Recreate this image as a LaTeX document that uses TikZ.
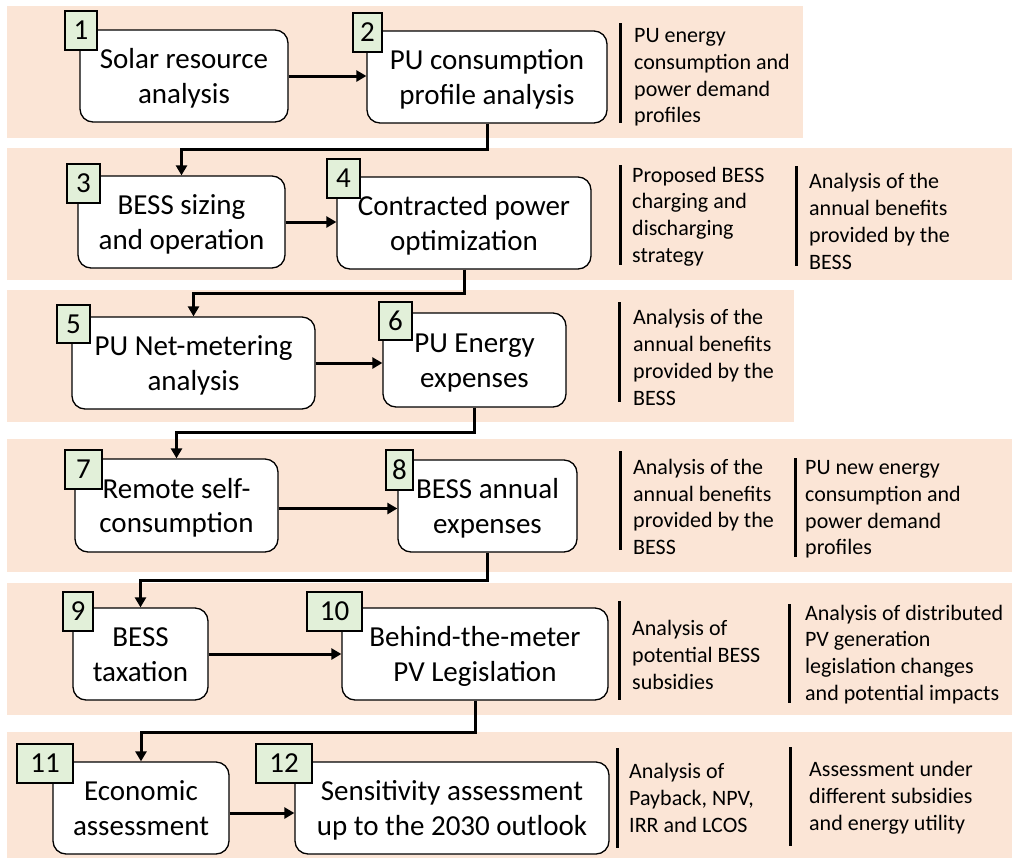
\documentclass[tikz,border=0pt]{standalone}
\usepackage{fontspec}
\setmainfont{Carlito}
\usetikzlibrary{arrows.meta,calc}
\definecolor{bandc}{HTML}{FBE5D6}
\definecolor{tagc}{HTML}{E2F0D9}
\newcommand\twolines[2]{\raisebox{-3pt}[\height][\depth]{\begin{tabular}{@{}c@{}}#1\\#2\end{tabular}}}
\begin{document}
\begin{tikzpicture}[x=1pt,y=-1pt,
  band/.style={fill=bandc,draw=none},
  box/.style={draw=black,line width=1.3pt,fill=white,rounded corners=13pt,align=center,inner sep=0pt,font=\fontsize{29}{34.5}\selectfont},
  tag/.style={draw=black,line width=1.3pt,fill=tagc,inner sep=0pt,font=\fontsize{29}{35}\selectfont},
  conn/.style={line width=3pt,-{Triangle[length=10pt,width=11pt]}},
  bar/.style={line width=3pt},
  side/.style={anchor=west,align=left,inner sep=0pt,font=\fontsize{22}{26.8}\selectfont}]
\useasboundingbox (0,0) rectangle (1012,860);
% bands
\fill[band] (7,6) rectangle (803,138);
\fill[band] (7,148) rectangle (1012,280);
\fill[band] (7,290) rectangle (794,422);
\fill[band] (7,439) rectangle (1012,572);
\fill[band] (7,583) rectangle (1012,715);
\fill[band] (7,732) rectangle (1012,858);
% side bars
\draw[bar] (620,23) -- (620,123);
\draw[bar] (620,165) -- (620,265);
\draw[bar] (796,166) -- (796,266);
\draw[bar] (619,302) -- (619,402);
\draw[bar] (620,451) -- (620,550);
\draw[bar] (795,458) -- (795,557);
\draw[bar] (619,601) -- (619,700);
\draw[bar] (789,604) -- (789,703);
\draw[bar] (617,748) -- (617,848);
\draw[bar] (790,747) -- (790,846);
% boxes
\node[box,minimum width=208pt,minimum height=92pt] (b1) at (184,76) {\twolines{Solar resource}{analysis}};
\node[box,minimum width=240pt,minimum height=92pt] (b2) at (487,77) {\twolines{PU consumption}{profile analysis}};
\node[box,minimum width=207pt,minimum height=92pt] (b3) at (181.5,222) {\twolines{BESS sizing}{and operation}};
\node[box,minimum width=254pt,minimum height=92pt] (b4) at (464,223) {\twolines{Contracted power}{optimization}};
\node[box,minimum width=243pt,minimum height=92pt] (b5) at (193.5,363) {\twolines{PU Net-metering}{analysis}};
\node[box,minimum width=183pt,minimum height=94pt] (b6) at (474.5,360) {\twolines{PU Energy}{expenses}};
\node[box,minimum width=203pt,minimum height=93pt] (b7) at (176.5,505.5) {\twolines{Remote self-}{consumption}};
\node[box,minimum width=179pt,minimum height=92pt] (b8) at (487.5,506) {\twolines{BESS annual}{expenses}};
\node[box,minimum width=135pt,minimum height=92pt] (b9) at (140.5,654) {\twolines{BESS}{taxation}};
\node[box,minimum width=266pt,minimum height=92pt] (b10) at (475,654) {\twolines{Behind-the-meter}{PV Legislation}};
\node[box,minimum width=176pt,minimum height=92pt] (b11) at (141,808) {\twolines{Economic}{assessment}};
\node[box,minimum width=314pt,minimum height=92pt] (b12) at (452,808) {\twolines{Sensitivity assessment}{up to the 2030 outlook}};
% tags
\node[tag,minimum width=32pt,minimum height=39pt] (t1) at (81,30.5) {1};
\node[tag,minimum width=29pt,minimum height=39pt] (t2) at (367.5,32.5) {2};
\node[tag,minimum width=33pt,minimum height=39pt] (t3) at (83.5,183.5) {3};
\node[tag,minimum width=33pt,minimum height=39pt] (t4) at (343.5,178.5) {4};
\node[tag,minimum width=33pt,minimum height=38pt] (t5) at (73.5,324) {5};
\node[tag,minimum width=33pt,minimum height=38pt] (t6) at (395.5,321) {6};
\node[tag,minimum width=37pt,minimum height=39pt] (t7) at (83.5,469.5) {7};
\node[tag,minimum width=27pt,minimum height=40pt] (t8) at (399.5,470) {8};
\node[tag,minimum width=30pt,minimum height=39pt] (t9) at (78,611.5) {9};
\node[tag,minimum width=55pt,minimum height=39pt] (t10) at (334.5,611.5) {10};
\node[tag,minimum width=56pt,minimum height=39pt] (t11) at (45,763.5) {11};
\node[tag,minimum width=56pt,minimum height=39pt] (t12) at (284,763.5) {12};
% connectors
\coordinate (j23) at (0,149);
\coordinate (j45) at (0,293);
\coordinate (j67) at (0,432);
\coordinate (j89) at (0,580);
\coordinate (j1011) at (0,732);
\draw[conn] (b2.south) -- (b2.south |- j23) -| (b3.north);
\draw[conn] (b4.south) -- (b4.south |- j45) -| (b5.north);
\draw[conn] (b6.south) -- (b6.south |- j67) -| (b7.north);
\draw[conn] (b8.south) -- (b8.south |- j89) -| (b9.north);
\draw[conn] (b10.south) -- (b10.south |- j1011) -| (b11.north);
\draw[conn] (b1.east) -- (b1.east -| b2.west);
\draw[conn] (b3.east) -- (b3.east -| b4.west);
\draw[conn] (b5.east) -- (b5.east -| b6.west);
\draw[conn] ($(b7.east)+(0,3)$) -- ($(b7.east -| b8.west)+(0,3)$);
\draw[conn] (b9.east) -- (b9.east -| b10.west);
\draw[conn] ($(b11.east)+(0,5)$) -- ($(b11.east -| b12.west)+(0,5)$);
% side texts
\node[side] (s1) at (634,77.5) {PU energy\\consumption and\\power demand\\profiles};
\node[side] (s2a) at (632,216.5) {Proposed BESS\\charging and\\discharging\\strategy};
\node[side] (s2b) at (809,221.5) {Analysis of the\\annual benefits\\provided by the\\BESS};
\node[side] (s3) at (633,357.5) {Analysis of the\\annual benefits\\provided by the\\BESS};
\node[side] (s4a) at (633,507) {Analysis of the\\annual benefits\\provided by the\\BESS};
\node[side] (s4b) at (805,509.5) {PU new energy\\consumption and\\power demand\\profiles};
\node[side] (s5a) at (632,655) {Analysis of\\potential BESS\\subsidies};
\node[side] (s5b) at (805,654.5) {Analysis of distributed\\PV generation\\legislation changes\\and potential impacts};
\node[side] (s6a) at (629,798) {Analysis of\\Payback, NPV,\\IRR and LCOS};
\node[side] (s6b) at (809,798) {Assessment under\\different subsidies\\and energy utility};
\end{tikzpicture}
\end{document}
